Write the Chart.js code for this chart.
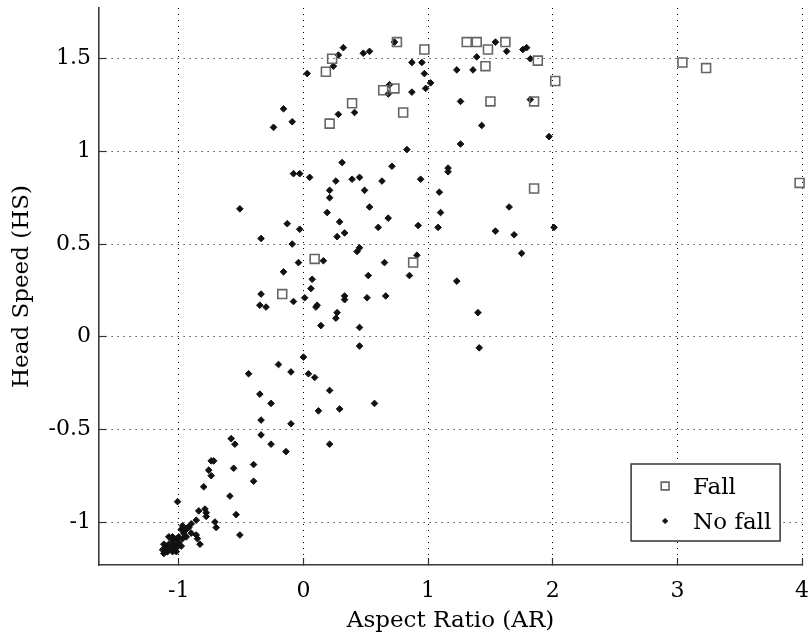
<!DOCTYPE html>
<html>
<head>
<meta charset="utf-8">
<script src="https://cdn.jsdelivr.net/npm/chart.js@4/dist/chart.umd.min.js"></script>
<style>
  html, body { margin: 0; padding: 0; background: #fff; }
  #wrap { width: 810px; height: 636px; }
</style>
</head>
<body>
<div id="wrap"><canvas id="scatter"></canvas></div>
<script>
// Aspect ratio (x) and head speed (y) for the fall events
const FALL_AR = [0.75, 0.97, 0.23, 0.18, 0.64, 0.73, 0.39, 0.80, 0.21, 1.31,
                 1.39, 1.48, 1.62, 1.46, 1.88, 2.02, 1.50, 1.85, 1.85, 3.04,
                 3.23, 3.98, 0.09, 0.88, -0.17];
const FALL_HS = [1.59, 1.55, 1.50, 1.43, 1.33, 1.34, 1.26, 1.21, 1.15, 1.59,
                 1.59, 1.55, 1.59, 1.46, 1.49, 1.38, 1.27, 1.27, 0.80, 1.48,
                 1.45, 0.83, 0.42, 0.40, 0.23];

// Same measures for the normal activities
const NOFALL_AR = [
  0.32, 0.28, 0.24, 0.03, 0.48, 0.53, 0.73, 0.87, 0.95, 0.97,
  1.02, 0.98, 0.69, 0.68, 0.87, -0.16, -0.09, -0.24, 0.28, 0.41,
  0.83, 1.54, 1.63, 1.76, 1.79, 1.82, 1.39, 1.23, 1.36, 1.26,
  1.82, 1.43, 1.26, 1.97, -0.08, -0.03, 0.05, 0.31, 0.26, 0.21,
  0.21, 0.39, 0.45, 0.49, 0.63, 0.71, 0.94, 1.16, 1.16, 1.09,
  0.19, 0.53, 1.10, 1.65, -0.13, 0.29, 0.68, -0.03, 0.27, 0.33,
  0.60, 0.92, 1.08, 1.54, 1.69, 2.01, -0.09, 0.45, 0.43, 1.75,
  0.16, 0.91, -0.04, -0.16, 0.65, 0.52, 0.85, 0.07, 0.06, 1.23,
  -0.08, 0.01, 0.11, 0.10, 0.33, 0.33, 0.51, 0.66, 1.40, 0.27,
  0.26, 0.14, 0.45, 1.41, -0.51, -0.34, -0.34, -0.35, -0.30, 0.45,
  0.00, -0.20, -0.44, -0.10, 0.04, 0.09, -0.35, -0.26, 0.21, 0.29,
  0.12, 0.57, -0.34, -0.10, -0.34, -0.26, 0.21, -0.14, -0.58, -0.55,
  -0.74, -0.72, -0.76, -0.74, -0.40, -0.56, -0.40, -0.80, -0.59, -0.54,
  -1.01, -0.51, -0.84, -0.79, -0.78, -0.78, -0.71, -0.70, -0.86, -0.83,
  -0.86, -0.90, -0.93, -0.97, -0.98, -0.85, -1.13, -1.10, -1.08, -1.05,
  -1.02, -1.06, -1.09, -1.04, -1.01, -1.00, -0.96, -0.94, -0.92, -1.12,
  -1.10, -0.98, -1.02, -1.05, -1.08, -1.12, -1.00, -1.05, -0.97, -1.02, -0.94, -0.90
];
const NOFALL_HS = [
  1.56, 1.52, 1.46, 1.42, 1.53, 1.54, 1.59, 1.48, 1.48, 1.42,
  1.37, 1.34, 1.36, 1.31, 1.32, 1.23, 1.16, 1.13, 1.20, 1.21,
  1.01, 1.59, 1.54, 1.55, 1.56, 1.50, 1.51, 1.44, 1.44, 1.27,
  1.28, 1.14, 1.04, 1.08, 0.88, 0.88, 0.86, 0.94, 0.84, 0.79,
  0.75, 0.85, 0.86, 0.79, 0.84, 0.92, 0.85, 0.91, 0.89, 0.78,
  0.67, 0.70, 0.67, 0.70, 0.61, 0.62, 0.64, 0.58, 0.54, 0.56,
  0.59, 0.60, 0.59, 0.57, 0.55, 0.59, 0.50, 0.48, 0.46, 0.45,
  0.41, 0.44, 0.40, 0.35, 0.40, 0.33, 0.33, 0.31, 0.26, 0.30,
  0.19, 0.21, 0.17, 0.16, 0.22, 0.20, 0.21, 0.22, 0.13, 0.13,
  0.10, 0.06, 0.05, -0.06, 0.69, 0.53, 0.23, 0.17, 0.16, -0.05,
  -0.11, -0.15, -0.20, -0.19, -0.20, -0.22, -0.31, -0.36, -0.29, -0.39,
  -0.40, -0.36, -0.45, -0.47, -0.53, -0.58, -0.58, -0.62, -0.55, -0.58,
  -0.67, -0.67, -0.72, -0.75, -0.69, -0.71, -0.78, -0.81, -0.86, -0.96,
  -0.89, -1.07, -0.94, -0.93, -0.95, -0.97, -1.00, -1.03, -1.07, -1.12,
  -0.99, -1.01, -1.03, -1.02, -1.04, -1.09, -1.15, -1.13, -1.12, -1.10,
  -1.09, -1.14, -1.16, -1.12, -1.12, -1.08, -1.06, -1.04, -1.03, -1.12,
  -1.16, -1.13, -1.14, -1.16, -1.08, -1.17, -1.11, -1.08, -1.09, -1.16, -1.08, -1.06
];

const X_TICKS = [-1, 0, 1, 2, 3, 4];
const Y_TICKS = [-1, -0.5, 0, 0.5, 1, 1.5];
const Y_TICK_LABELS = ['-1', '-0.5', '0', '0.5', '1', '1.5'];

const toPoints = (xs, ys) => xs.map((x, i) => ({ x: x, y: ys[i] }));

const serif = 'DejaVu Serif';

// legend drawn inside the plot, lower right corner, with a framed box
const boxLegend = {
  id: 'boxLegend',
  afterDraw(chart) {
    const ctx = chart.ctx;
    const area = chart.chartArea;
    const w = 149, h = 77;
    const x0 = area.right - 22 - w;
    const y0 = area.bottom - 24 - h;
    ctx.save();
    ctx.fillStyle = '#fff';
    ctx.fillRect(x0, y0, w, h);
    ctx.lineWidth = 1.5;
    ctx.strokeStyle = '#333';
    ctx.strokeRect(x0, y0, w, h);
    ctx.font = '23px "' + serif + '"';
    ctx.textBaseline = 'middle';
    ctx.textAlign = 'left';
    chart.data.datasets.forEach((ds, i) => {
      const cy = y0 + 22 + i * 35;
      ctx.fillStyle = ds.backgroundColor;
      ctx.strokeStyle = ds.borderColor;
      ctx.lineWidth = ds.borderWidth;
      Chart.helpers.drawPoint(ctx, {
        pointStyle: ds.pointStyle,
        radius: ds.legendRadius,
        rotation: 0,
        borderWidth: ds.borderWidth
      }, x0 + 34, cy);
      ctx.fillStyle = '#000';
      ctx.fillText(ds.label, x0 + 62, cy + 2);
    });
    ctx.restore();
  }
};

const ctx = document.getElementById('scatter').getContext('2d');
new Chart(ctx, {
  type: 'scatter',
  data: {
    datasets: [{
      label: 'Fall',
      data: toPoints(FALL_AR, FALL_HS),
      pointStyle: 'rect',
      radius: 6.3,
      legendRadius: 5.5,
      backgroundColor: 'rgba(0,0,0,0)',
      borderColor: '#666',
      borderWidth: 1.6,
      clip: false
    }, {
      label: 'No fall',
      data: toPoints(NOFALL_AR, NOFALL_HS),
      pointStyle: 'rectRot',
      radius: 3.3,
      legendRadius: 2.6,
      backgroundColor: '#111',
      borderColor: '#111',
      borderWidth: 1,
      clip: false
    }]
  },
  options: {
    responsive: true,
    maintainAspectRatio: false,
    animation: false,
    layout: { padding: { top: 8, right: 0, bottom: 0, left: 0 } },
    plugins: {
      legend: { display: false },
      tooltip: { enabled: false }
    },
    scales: {
      x: {
        type: 'linear',
        min: -1.64,
        max: 4.0,
        afterBuildTicks: (scale) => { scale.ticks = X_TICKS.map(v => ({ value: v })); },
        afterFit: (scale) => { scale.height = 71; scale.paddingLeft = 0; scale.paddingRight = 0; },
        ticks: {
          color: '#000',
          font: { family: serif, size: 22 },
          padding: 20,
          maxRotation: 0,
          callback: (v) => String(v)
        },
        grid: {
          color: '#000',
          lineWidth: 1,
          drawTicks: true,
          tickLength: -7,
          tickColor: '#333',
          tickWidth: 1.2,
          tickBorderDash: []
        },
        border: { display: true, color: '#3a3a3a', width: 1.6, dash: [1, 5] },
        title: {
          display: true,
          text: 'Aspect Ratio (AR)',
          color: '#000',
          font: { family: serif, size: 23 },
          padding: { top: 0, bottom: 1 }
        }
      },
      y: {
        type: 'linear',
        min: -1.232,
        max: 1.774,
        afterBuildTicks: (scale) => { scale.ticks = Y_TICKS.map(v => ({ value: v })); },
        afterFit: (scale) => { scale.width = 99; scale.paddingTop = 0; scale.paddingBottom = 0; },
        ticks: {
          color: '#000',
          font: { family: serif, size: 22 },
          padding: 15,
          callback: (v) => Y_TICK_LABELS[Y_TICKS.indexOf(v)]
        },
        grid: {
          color: '#000',
          lineWidth: 1,
          drawTicks: true,
          tickLength: -7,
          tickColor: '#333',
          tickWidth: 1.2,
          tickBorderDash: []
        },
        border: { display: true, color: '#3a3a3a', width: 1.6, dash: [1, 5] },
        title: {
          display: true,
          text: 'Head Speed (HS)',
          color: '#000',
          font: { family: serif, size: 23 },
          padding: { top: 8, bottom: 0 }
        }
      }
    }
  },
  plugins: [boxLegend]
});
</script>
</body>
</html>
